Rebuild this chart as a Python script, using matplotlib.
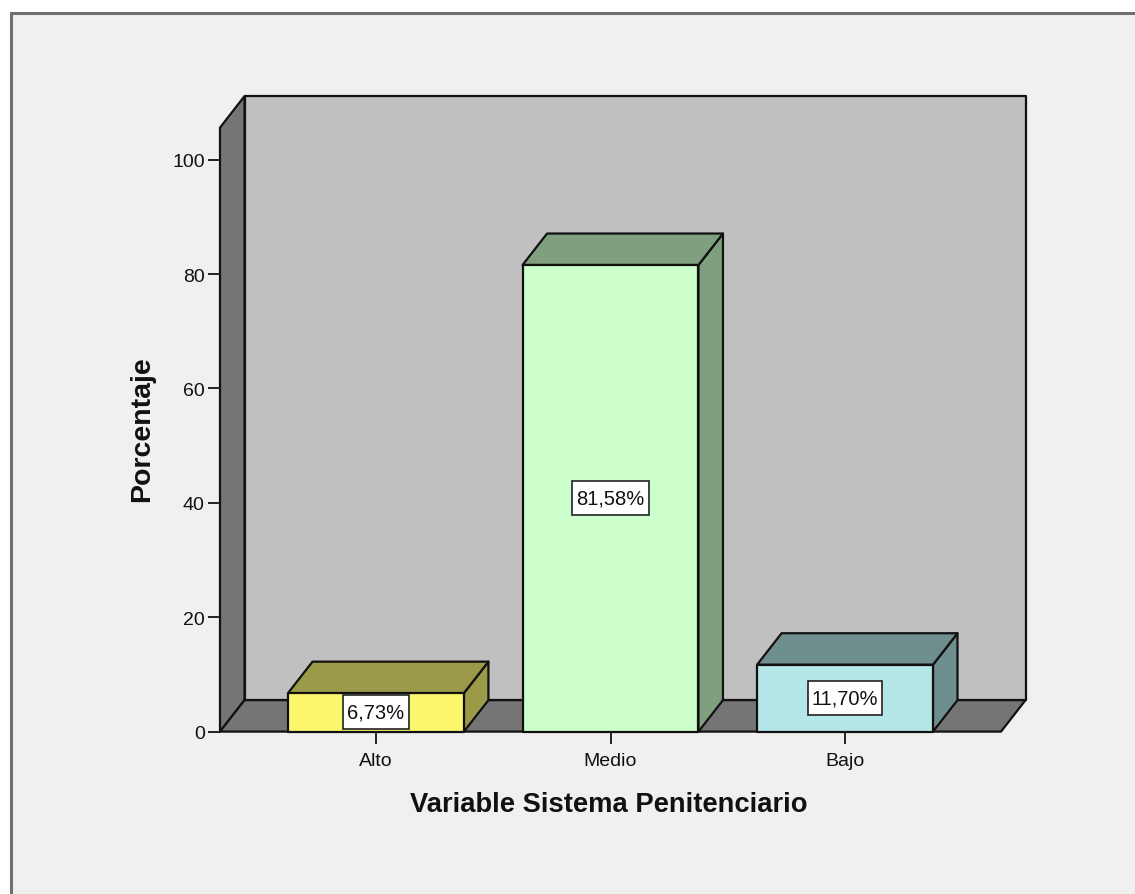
import matplotlib
matplotlib.use("Agg")
import matplotlib.pyplot as plt
from matplotlib.patches import Polygon, Rectangle
from matplotlib.transforms import IdentityTransform

categories = ["Alto", "Medio", "Bajo"]
values = [6.73, 81.58, 11.70]
value_labels = ["6,73%", "81,58%", "11,70%"]
yticks = [0, 20, 40, 60, 80, 100]

front_colors = ["#fdf76f", "#ccffcc", "#b5e6e8"]
side_colors = ["#9a9a48", "#7f9f7f", "#6f8f8f"]
wall_color = "#c0c0c0"
floor_color = "#757575"
line_color = "#111111"

W, H = 1135, 895
plt.rcParams['font.family'] = ['Liberation Sans', 'DejaVu Sans']

fig = plt.figure(figsize=(W / 100, H / 100), dpi=100, facecolor="white")

# panel behind the chart, runs off the right and bottom of the image
fig.patches.append(Rectangle((11 / W, -0.05), 1.1, 1.05 - 14 / H, transform=fig.transFigure,
                             facecolor="#f0f0f0", edgecolor="#707070", linewidth=2.2, zorder=-1))

ax = fig.add_axes([220 / W, 1 - 732.6 / H, (1001 - 220) / W, (732 - 128) / H])
ax.set_xlim(-0.665, 2.665)
ax.set_ylim(0, 105.6)
ax.patch.set_visible(False)
for s in ax.spines.values():
    s.set_visible(False)

# depth of the fake 3d box in data units
dx = 0.1045
dy = 5.5
x0, x1 = ax.get_xlim()
y0, y1 = ax.get_ylim()


def poly(pts, color, z):
    ax.add_patch(Polygon(pts, closed=True, facecolor=color, edgecolor=line_color,
                         linewidth=1.6, joinstyle="round", clip_on=False, zorder=z))


# walls
poly([(x0 + dx, y0 + dy), (x1 + dx, y0 + dy), (x1 + dx, y1 + dy), (x0 + dx, y1 + dy)], wall_color, 1)
poly([(x0, y0), (x0 + dx, y0 + dy), (x0 + dx, y1 + dy), (x0, y1)], floor_color, 1)
poly([(x0, y0), (x1, y0), (x1 + dx, y0 + dy), (x0 + dx, y0 + dy)], floor_color, 1)

# bars
bw = 0.375
renderer = fig.canvas.get_renderer()
for i, v in enumerate(values):
    poly([(i + bw, 0), (i + bw + dx, dy), (i + bw + dx, v + dy), (i + bw, v)], side_colors[i], 3)
    poly([(i - bw, v), (i + bw, v), (i + bw + dx, v + dy), (i - bw + dx, v + dy)], side_colors[i], 3)
    poly([(i - bw, 0), (i + bw, 0), (i + bw, v), (i - bw, v)], front_colors[i], 4)
    t = ax.text(i, v / 2, value_labels[i], ha="center", va="center", fontsize=14.5, color="#111111", zorder=6)
    # label box is taller than a normal text bbox, so draw it by hand around the text
    ext = t.get_window_extent(renderer)
    cy = (ext.y0 + ext.y1) / 2
    ax.add_patch(Rectangle((ext.x0 - 4, cy - 17), ext.width + 8, 34, transform=IdentityTransform(),
                           facecolor="white", edgecolor="#222222", linewidth=1.2, zorder=5))

ax.set_xticks(range(len(categories)), categories)
ax.set_yticks(yticks)
ax.tick_params(axis="both", length=8.5, width=1.4, color="#222222", labelsize=14, labelcolor="#111111", pad=2.5)
ax.tick_params(axis="x", pad=6)

fig.text(609 / W, 1 - 805 / H, "Variable Sistema Penitenciario", ha="center", va="center",
         fontsize=19.7, fontweight="bold", color="#111111")
fig.text(142 / W, 1 - 429 / H, "Porcentaje", ha="center", va="center", rotation=90,
         fontsize=20.5, fontweight="bold", color="#111111")

fig.savefig("out.png", dpi=100)
